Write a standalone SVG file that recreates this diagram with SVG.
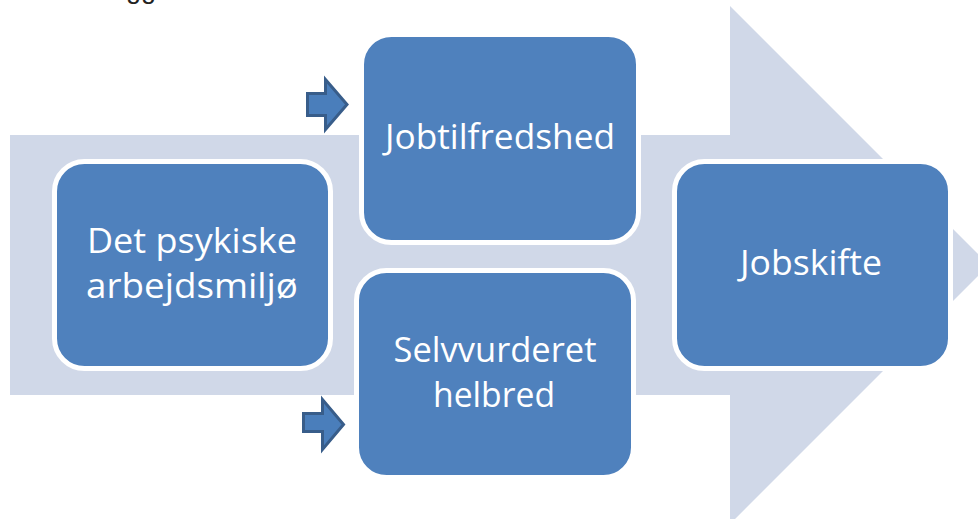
<svg xmlns="http://www.w3.org/2000/svg" width="978" height="519" viewBox="0 0 978 519">
  <style>
    .box { fill: #4F81BD; stroke: #FFFFFF; stroke-width: 5; }
    .lbl { fill: #FFFFFF; font-family: "Open Sans", "Liberation Sans", sans-serif; font-size: 35px; text-anchor: middle; }
    .small-arrow { fill: #4A7EBB; stroke: #385D8A; stroke-width: 3; stroke-linejoin: miter; }
  </style>
  <rect x="0" y="0" width="978" height="519" fill="#FFFFFF"/>
  <text x="141" y="-2" font-family="Liberation Sans, sans-serif" font-size="27" fill="#222222" text-anchor="middle">gg</text>
  <g id="background-arrow">
    <polygon points="10,135 730,135 730,6 989,265 730,524 730,395 10,395" fill="#D0D8E8"/>
  </g>
  <g id="connectors">
    <polygon class="small-arrow" points="307.5,93.5 325.5,93.5 325.5,79.5 347,104.5 325.5,129.5 325.5,115.5 307.5,115.5"/>
    <polygon class="small-arrow" points="303.5,413.5 322.5,413.5 322.5,399.5 343.5,424.5 322.5,449.5 322.5,431.5 303.5,431.5"/>
  </g>
  <g id="node-psykiske">
    <rect class="box" x="54.5" y="161.5" width="276" height="207" rx="30" ry="30"/>
    <text class="lbl" x="192" y="253" textLength="210" lengthAdjust="spacingAndGlyphs">Det psykiske</text>
    <text class="lbl" x="192" y="298" textLength="212" lengthAdjust="spacingAndGlyphs">arbejdsmiljø</text>
  </g>
  <g id="node-jobtilfredshed">
    <rect class="box" x="361.5" y="34.5" width="277" height="208" rx="30" ry="30"/>
    <text class="lbl" x="500" y="149" textLength="230" lengthAdjust="spacingAndGlyphs">Jobtilfredshed</text>
  </g>
  <g id="node-helbred">
    <rect class="box" x="356.5" y="270.5" width="277" height="207" rx="30" ry="30"/>
    <text class="lbl" x="495" y="362" textLength="203" lengthAdjust="spacingAndGlyphs">Selvvurderet</text>
    <text class="lbl" x="494" y="407" textLength="122" lengthAdjust="spacingAndGlyphs">helbred</text>
  </g>
  <g id="node-jobskifte">
    <rect class="box" x="674.5" y="161.5" width="276" height="207" rx="30" ry="30"/>
    <text class="lbl" x="811" y="275" textLength="142" lengthAdjust="spacingAndGlyphs">Jobskifte</text>
  </g>
</svg>
